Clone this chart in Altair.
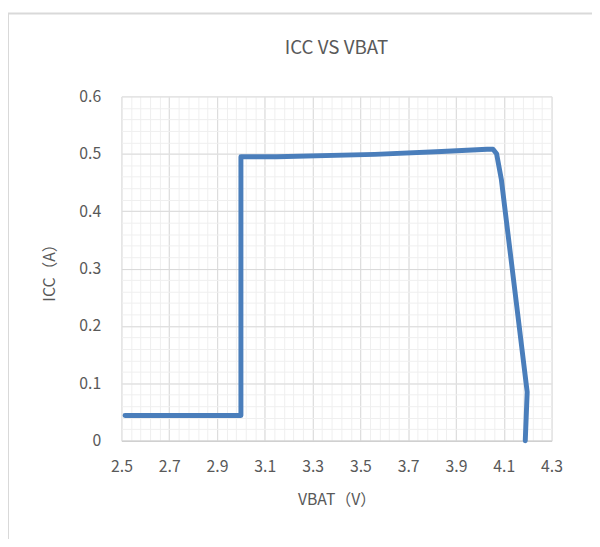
import altair as alt
import pandas as pd

# Data
vbat = [2.515, 3.0, 3.0, 3.15, 3.56, 3.84, 4.03, 4.055, 4.07, 4.09, 4.198, 4.19]
icc = [0.044, 0.044, 0.495, 0.495, 0.499, 0.504, 0.508, 0.508, 0.500, 0.455, 0.085, 0.0]

x_major = [2.5, 2.7, 2.9, 3.1, 3.3, 3.5, 3.7, 3.9, 4.1, 4.3]
y_major = [0, 0.1, 0.2, 0.3, 0.4, 0.5, 0.6]
x_minor = [round(2.5 + 0.04 * i, 2) for i in range(46)]
y_minor = [round(0.02 * i, 2) for i in range(31)]
chart_title = ["ICC VS VBAT"]

df = pd.DataFrame({"vbat": vbat, "icc": icc, "idx": list(range(len(vbat)))})

FONT = "Noto Sans CJK SC"
GREY = "#595959"

xs = alt.Scale(domain=[2.5, 4.3], nice=False, zero=False)
ys = alt.Scale(domain=[0, 0.6], nice=False)

minor = alt.Chart(df).mark_line(opacity=0).encode(
    x=alt.X("vbat:Q", scale=xs,
            axis=alt.Axis(values=x_minor, orient="top", labels=False, ticks=False,
                          domain=False, title=None, grid=True, gridColor="#efefef",
                          gridWidth=1)),
    y=alt.Y("icc:Q", scale=ys,
            axis=alt.Axis(values=y_minor, orient="right", labels=False, ticks=False,
                          domain=False, title=None, grid=True, gridColor="#efefef",
                          gridWidth=1)),
    order="idx:Q",
)

main = alt.Chart(df).mark_line(color="#4a7ebb", strokeWidth=5, strokeCap="round",
                               strokeJoin="round").encode(
    x=alt.X("vbat:Q", scale=xs,
            axis=alt.Axis(values=x_major, format=".1f", title="VBAT（V）",
                          labelFont=FONT, labelFontSize=16, labelColor=GREY,
                          labelPadding=18, labelFlush=False, labelOverlap=False,
                          ticks=False, domain=True,
                          domainColor="#d0d0d0", domainWidth=1.5,
                          grid=True, gridColor="#d9d9d9", gridWidth=1,
                          titleFont=FONT, titleFontSize=16, titleColor=GREY,
                          titleFontWeight="normal", titlePadding=18)),
    y=alt.Y("icc:Q", scale=ys,
            axis=alt.Axis(values=y_major, title="ICC（A）",
                          labelExpr="datum.value == 0 ? '0' : format(datum.value, '.1f')",
                          labelFont=FONT, labelFontSize=16, labelColor=GREY,
                          labelPadding=21, labelFlush=False, labelOverlap=False,
                          ticks=False, domain=False,
                          grid=True, gridColor="#d9d9d9", gridWidth=1,
                          titleFont=FONT, titleFontSize=16, titleColor=GREY,
                          titleFontWeight="normal", titlePadding=22)),
    order="idx:Q",
)

frame = alt.Chart(pd.DataFrame({"a": [0]})).mark_rect(
    fill=None, stroke="#d9d9d9", strokeWidth=2
).encode(x=alt.value(-115), x2=alt.value(520), y=alt.value(-84), y2=alt.value(520))

title = alt.Chart(pd.DataFrame({"t": chart_title})).mark_text(
    font=FONT, fontSize=19, color=GREY, align="center", baseline="middle"
).encode(text="t:N", x=alt.value(218), y=alt.value(-49))

chart = alt.layer(frame, minor, main, title).resolve_axis(
    x="independent", y="independent"
).properties(
    width=436, height=349,
    autosize=alt.AutoSizeParams(type="none"),
    padding={"left": 115, "top": 86, "right": 41, "bottom": 96},
).configure_view(stroke=None)

chart.save("out.html", embed_options={"renderer": "svg", "actions": False})
